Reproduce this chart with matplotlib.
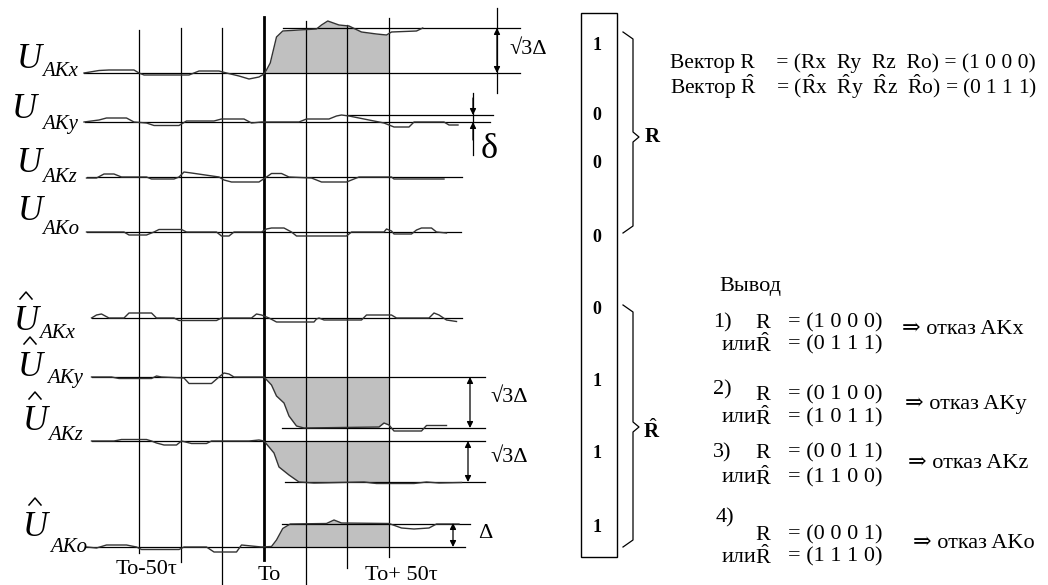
import matplotlib
matplotlib.use('Agg')
import matplotlib.pyplot as plt
from matplotlib.patches import Rectangle

plt.rcParams['font.family'] = ['Liberation Serif', 'DejaVu Serif']
plt.rcParams['mathtext.fontset'] = 'custom'
plt.rcParams['mathtext.rm'] = 'Liberation Serif'
plt.rcParams['mathtext.it'] = 'Liberation Serif:italic'
plt.rcParams['mathtext.bf'] = 'Liberation Serif:bold'


################################## DATA ##################################
channels = ['AKx', 'AKy', 'AKz', 'AKo']
grid_t = [-50, -100 / 3, -50 / 3, 0, 50 / 3, 100 / 3, 50]   # tau, from To
time_labels = ['To-50τ', 'To', 'To+ 50τ']
time_label_t = [-47, 2, 55]

# checks U (t in tau, deviation from own zero level, + is up)
ux_t = [-72, -66, -62, -52, -50, -48, -30, -28, -26, -18, -15, -10, -6, -2, 0, 1,
        2.5, 5, 7.5, 14, 21, 23, 25.5, 30, 34, 39, 45, 49, 51, 61, 63.5]
ux_v = [0, 2.5, 3, 3, 0, -2, -2, 0, 2, 2, 0, -3, -6, -4, -1, 3,
        10, 36, 42, 43, 44, 48, 52, 48, 47, 41, 39, 38, 41, 42, 45]
uy_t = [-72, -66, -63, -55, -52, -47, -44, -34, -31, -20, -17, -8, -5, -1, 14,
        17, 26, 29, 31, 34, 42, 48, 52, 58, 60, 72, 74, 77.6]
uy_v = [0, 2, 4, 4, 0, -1, -3.5, -3.5, 1, 1, 3, 3, -1, 0, 0,
        3, 3, 6, 7, 6, 2, -1, -5, -5, 0, 0, -3, -3]
uz_t = [-71, -67, -64, -60, -57, -47, -45, -36, -34, -32, -29, -18, -16, -13,
        -2, 1, 3, 7, 10, 19, 23, 33, 38, 51, 52, 72]
uz_v = [-1, -1, 3, 3, 0, 0, -2, -2, 0, 5, 4, 0, -3, -5,
        -5, 0, 3.5, 3.5, 0, -1, -5, -5, 0, 0, -2, -2]
uo_t = [-71, -56, -54, -47, -44, -42, -33, -31, -19, -17, -14, -12, -1, 1, 3,
        8, 11, 13, 33, 35, 48, 49, 51, 52, 59, 61, 63, 67, 69, 73]
uo_v = [0, 0, -3, -3, 0, 2.5, 2.5, 0, 0, -4, -4, 0, 0, 3, 4,
        4, 0, -4, -4, 0, 0, 3, 1, -2, -2, 2, 4, 4, 0, -1]

# checks U-hat
hx_t = [-69, -67, -65, -62, -56, -54, -45, -43, -36, -34, -19, -17, -5, -3, -1,
        2, 5, 20, 21, 22, 24, 39, 41, 51, 53, 66, 68, 70, 73, 77]
hx_v = [0, 3, 4, 0, 0, 5, 5, 0, 0, -2.5, -2.5, 0, 0, 4, 3,
        0, -4, -4, -1, 0, -2, -2, 3, 3, 0, 0, 5, 3, -2, -3.5]
hy_t = [-69, -61, -58, -45, -43, -41, -32, -30, -21, -18, -16, -14, -12, 0, 3,
        5, 8, 10, 13, 16, 46, 48, 50, 52, 63, 65, 73]
hy_v = [0, 0, -1.5, -1.5, 1, 0, -1, -6.5, -6.5, 0, 4, 3, 0, 0, -8,
        -19, -26, -39, -49, -51, -50, -46, -48, -54, -54, -48.5, -48.5]
hz_t = [-69, -60, -57, -47, -45, -43, -40, -35, -33, -29, -28, -23, -21, -6,
        -2, 0, 4, 6, 10, 14, 20, 40, 45, 60, 65, 70, 79]
hz_v = [0, 0, 1.5, 1.5, 0, -2, -4, -4, 0, -2.5, -2.5, -2.5, 0, 0,
        1, 0, -12, -26, -34, -41, -42, -41, -42.5, -42.5, -41, -42, -41.5]
ho_t = [-71, -67, -63, -55, -51, -49, -34, -32, -23, -20, -11, -9, -1, 3, 5,
        7.5, 10.5, 25, 28, 31, 50, 55, 60, 66, 69, 78]
ho_v = [0, -1, 2, 2, 0, -2.5, -2.5, 0, 0, -5, -5, 2, 0, 0.5, 7,
        18.5, 23, 23.5, 27, 24, 23.5, 19, 18, 19, 23, 23]

# syndrome vectors
R = [1, 0, 0, 0]
R_hat = [0, 1, 1, 1]
cases_R = [[1, 0, 0, 0], [0, 1, 0, 0], [0, 0, 1, 1], [0, 0, 0, 1]]
cases_R_hat = [[0, 1, 1, 1], [1, 0, 1, 1], [1, 1, 0, 0], [1, 1, 1, 0]]


################################# LAYOUT #################################
W, H = 1048, 585
T0_PX, PX_PER_TAU = 264, 2.5
grid_top = [30, 28, 28, 17, 21, 25, 18]
grid_bottom = [553, 562, 585, 560, 585, 568, 557]
FS = 16   # body text size

# zero level y, zero line span, reference level (dev) and span, shaded
rows = [
    (ux_t, ux_v, 73, (-72, 102.4), 45, (7.6, 102.4), True),
    (uy_t, uy_v, 122, (-71.6, 90.4), 7, (33.2, 91.6), False),
    (uz_t, uz_v, 177, (-70.8, 79.2), None, None, False),
    (uo_t, uo_v, 232, (-70.8, 78.8), None, None, False),
    (hx_t, hx_v, 318, (-68.8, 79.2), None, None, False),
    (hy_t, hy_v, 377, (-68.8, 88.4), -51, (7.2, 88.4), True),
    (hz_t, hz_v, 441, (-68.8, 88.4), -41, (8.4, 88.4), True),
    (ho_t, ho_v, 547, (-71.6, 80.4), 23.5, (7.2, 82.4), True),
]
# label: U centre x, U centre y, hat, subscript x, subscript y
labels = [
    (29, 60, False, 42, 72), (24, 110, False, 42, 125),
    (29, 163, False, 42, 178), (30, 212, False, 42, 230),
    (26, 322, True, 39, 333), (30, 367, True, 47, 379),
    (35, 422, True, 48, 436), (35, 528, True, 50, 547),
]

fig = plt.figure(figsize=(W / 100, H / 100), dpi=100)
ax = fig.add_axes([0, 0, 1, 1])
ax.set_xlim(-T0_PX / PX_PER_TAU, (W - T0_PX) / PX_PER_TAU)
ax.set_ylim(H, 0)
ax.axis('off')

ov = fig.add_axes([0, 0, 1, 1])
ov.set_xlim(0, W)
ov.set_ylim(H, 0)
ov.axis('off')

# time grid
for t, y0, y1 in zip(grid_t, grid_top, grid_bottom):
    ax.plot([t, t], [y0, y1], color='black', lw=2.0 if t == 0 else 0.9)

for t, lab in zip(time_label_t, time_labels):
    y = 569 if lab.endswith('-50τ') else 576
    ax.text(t, y, lab, ha='center', va='center', fontsize=16)

# signals
for t, v, base, span, ref, ref_span, shaded in rows:
    ys = [base - d for d in v]
    ax.plot(span, [base, base], color='black', lw=0.9)
    if ref is not None:
        ax.plot(ref_span, [base - ref, base - ref], color='black', lw=0.9)
    if shaded:
        poly = ax.fill_between(t, base, ys, color='#c0c0c0', lw=0)
        poly.set_clip_path(Rectangle((0, 0), 50, H, transform=ax.transData))
    ax.plot(t, ys, color='#333333', lw=1.0)

# dimension arrows
def dim_arrow(t, y1, y2):
    ax.annotate('', xy=(t, y1), xytext=(t, y2),
                arrowprops=dict(arrowstyle='<|-|>', color='black', lw=0.9,
                                shrinkA=0, shrinkB=0, mutation_scale=9))

ax.plot([93.2, 93.2], [8, 93], color='black', lw=0.9)
dim_arrow(93.2, 28, 73)
ax.plot([83.6, 83.6], [93, 155], color='black', lw=0.9)
for a, b in [(98, 115), (140, 122)]:
    ax.annotate('', xy=(83.6, b), xytext=(83.6, a),
                arrowprops=dict(arrowstyle='-|>', color='black', lw=0.9,
                                shrinkA=0, shrinkB=0, mutation_scale=9))
dim_arrow(82.4, 377, 428)
dim_arrow(81.6, 441, 482)
dim_arrow(75.6, 523, 547)

ov.text(528, 50, '√3Δ', ha='center', va='center', fontsize=16)
ov.text(489, 150, 'δ', ha='center', va='center', fontsize=26)
ov.text(509, 398, '√3Δ', ha='center', va='center', fontsize=16)
ov.text(509, 458, '√3Δ', ha='center', va='center', fontsize=16)
ov.text(485, 533, 'Δ', ha='center', va='center', fontsize=16)

# channel labels
for (cx, cy, hat, sx, sy), name in zip(labels, channels * 2):
    ov.text(cx, cy, 'U', style='italic', ha='center', va='center', fontsize=25)
    ov.text(sx, sy, name, style='italic', ha='left', va='center', fontsize=15)
    if hat:
        hy = cy - 27
        ov.plot([cx - 6, cx, cx + 6], [hy + 4, hy - 3, hy + 4], color='black', lw=1.1)

# syndrome column
ov.add_patch(Rectangle((581, 13), 36, 544, fill=False, lw=1.0, ec='black'))
digit_y = [45, 115, 163, 237, 309, 382, 453, 527]
for y, v in zip(digit_y, R + R_hat):
    ov.text(597, y, str(v), ha='center', va='center', fontsize=13, weight='bold')

for top, tip, bot in [(32, 137, 233), (305, 427, 547)]:
    ov.plot([623, 633, 633, 639, 633, 633, 623],
            [top, top + 7, tip - 5, tip, tip + 5, bot - 7, bot], color='black', lw=0.9)
ov.text(652, 137, 'R', ha='center', va='center', fontsize=15, weight='bold')
ov.text(652, 431, r'$\hat{\mathbf{R}}$', ha='center', va='center', fontsize=15)

# text block
def vec(v):
    return '= (' + ' '.join(str(x) for x in v) + ')'

ov.text(670, 63, 'Вектор R    = (Rx  Ry  Rz  Ro) ' + vec(R), ha='left', va='center',
        fontsize=15.5)
hr = r'$\hat{\mathrm{R}}$'
ov.text(670, 87, 'Вектор ' + hr + '    = (' + hr + 'x  ' + hr + 'y  ' + hr + 'z  ' + hr
        + 'o) ' + vec(R_hat), ha='left', va='center', fontsize=15.5)
ov.text(719, 287, 'Вывод', ha='left', va='center', fontsize=FS)

num_pos = [(713, 323), (713, 390), (713, 453), (716, 518)]
r_y = [323, 395, 453, 535]
or_y = [345, 418, 478, 557]
arrow_pos = [(902, 330), (905, 404), (908, 464), (913, 543)]
for i, name in enumerate(channels):
    nx, ny = num_pos[i]
    ov.text(nx, ny, f'{i + 1})', ha='left', va='center', fontsize=FS)
    ov.text(763, r_y[i], 'R', ha='center', va='center', fontsize=FS)
    ov.text(788, r_y[i], vec(cases_R[i]), ha='left', va='center', fontsize=FS)
    ov.text(756, or_y[i], 'или', ha='right', va='center', fontsize=FS)
    ov.text(763, or_y[i], hr, ha='center', va='center', fontsize=FS)
    ov.text(788, or_y[i], vec(cases_R_hat[i]), ha='left', va='center', fontsize=FS)
    px, py = arrow_pos[i]
    ov.text(px, py, '⇒ отказ ' + name, ha='left', va='center', fontsize=FS)

fig.savefig('out.png', dpi=100, facecolor='white')
